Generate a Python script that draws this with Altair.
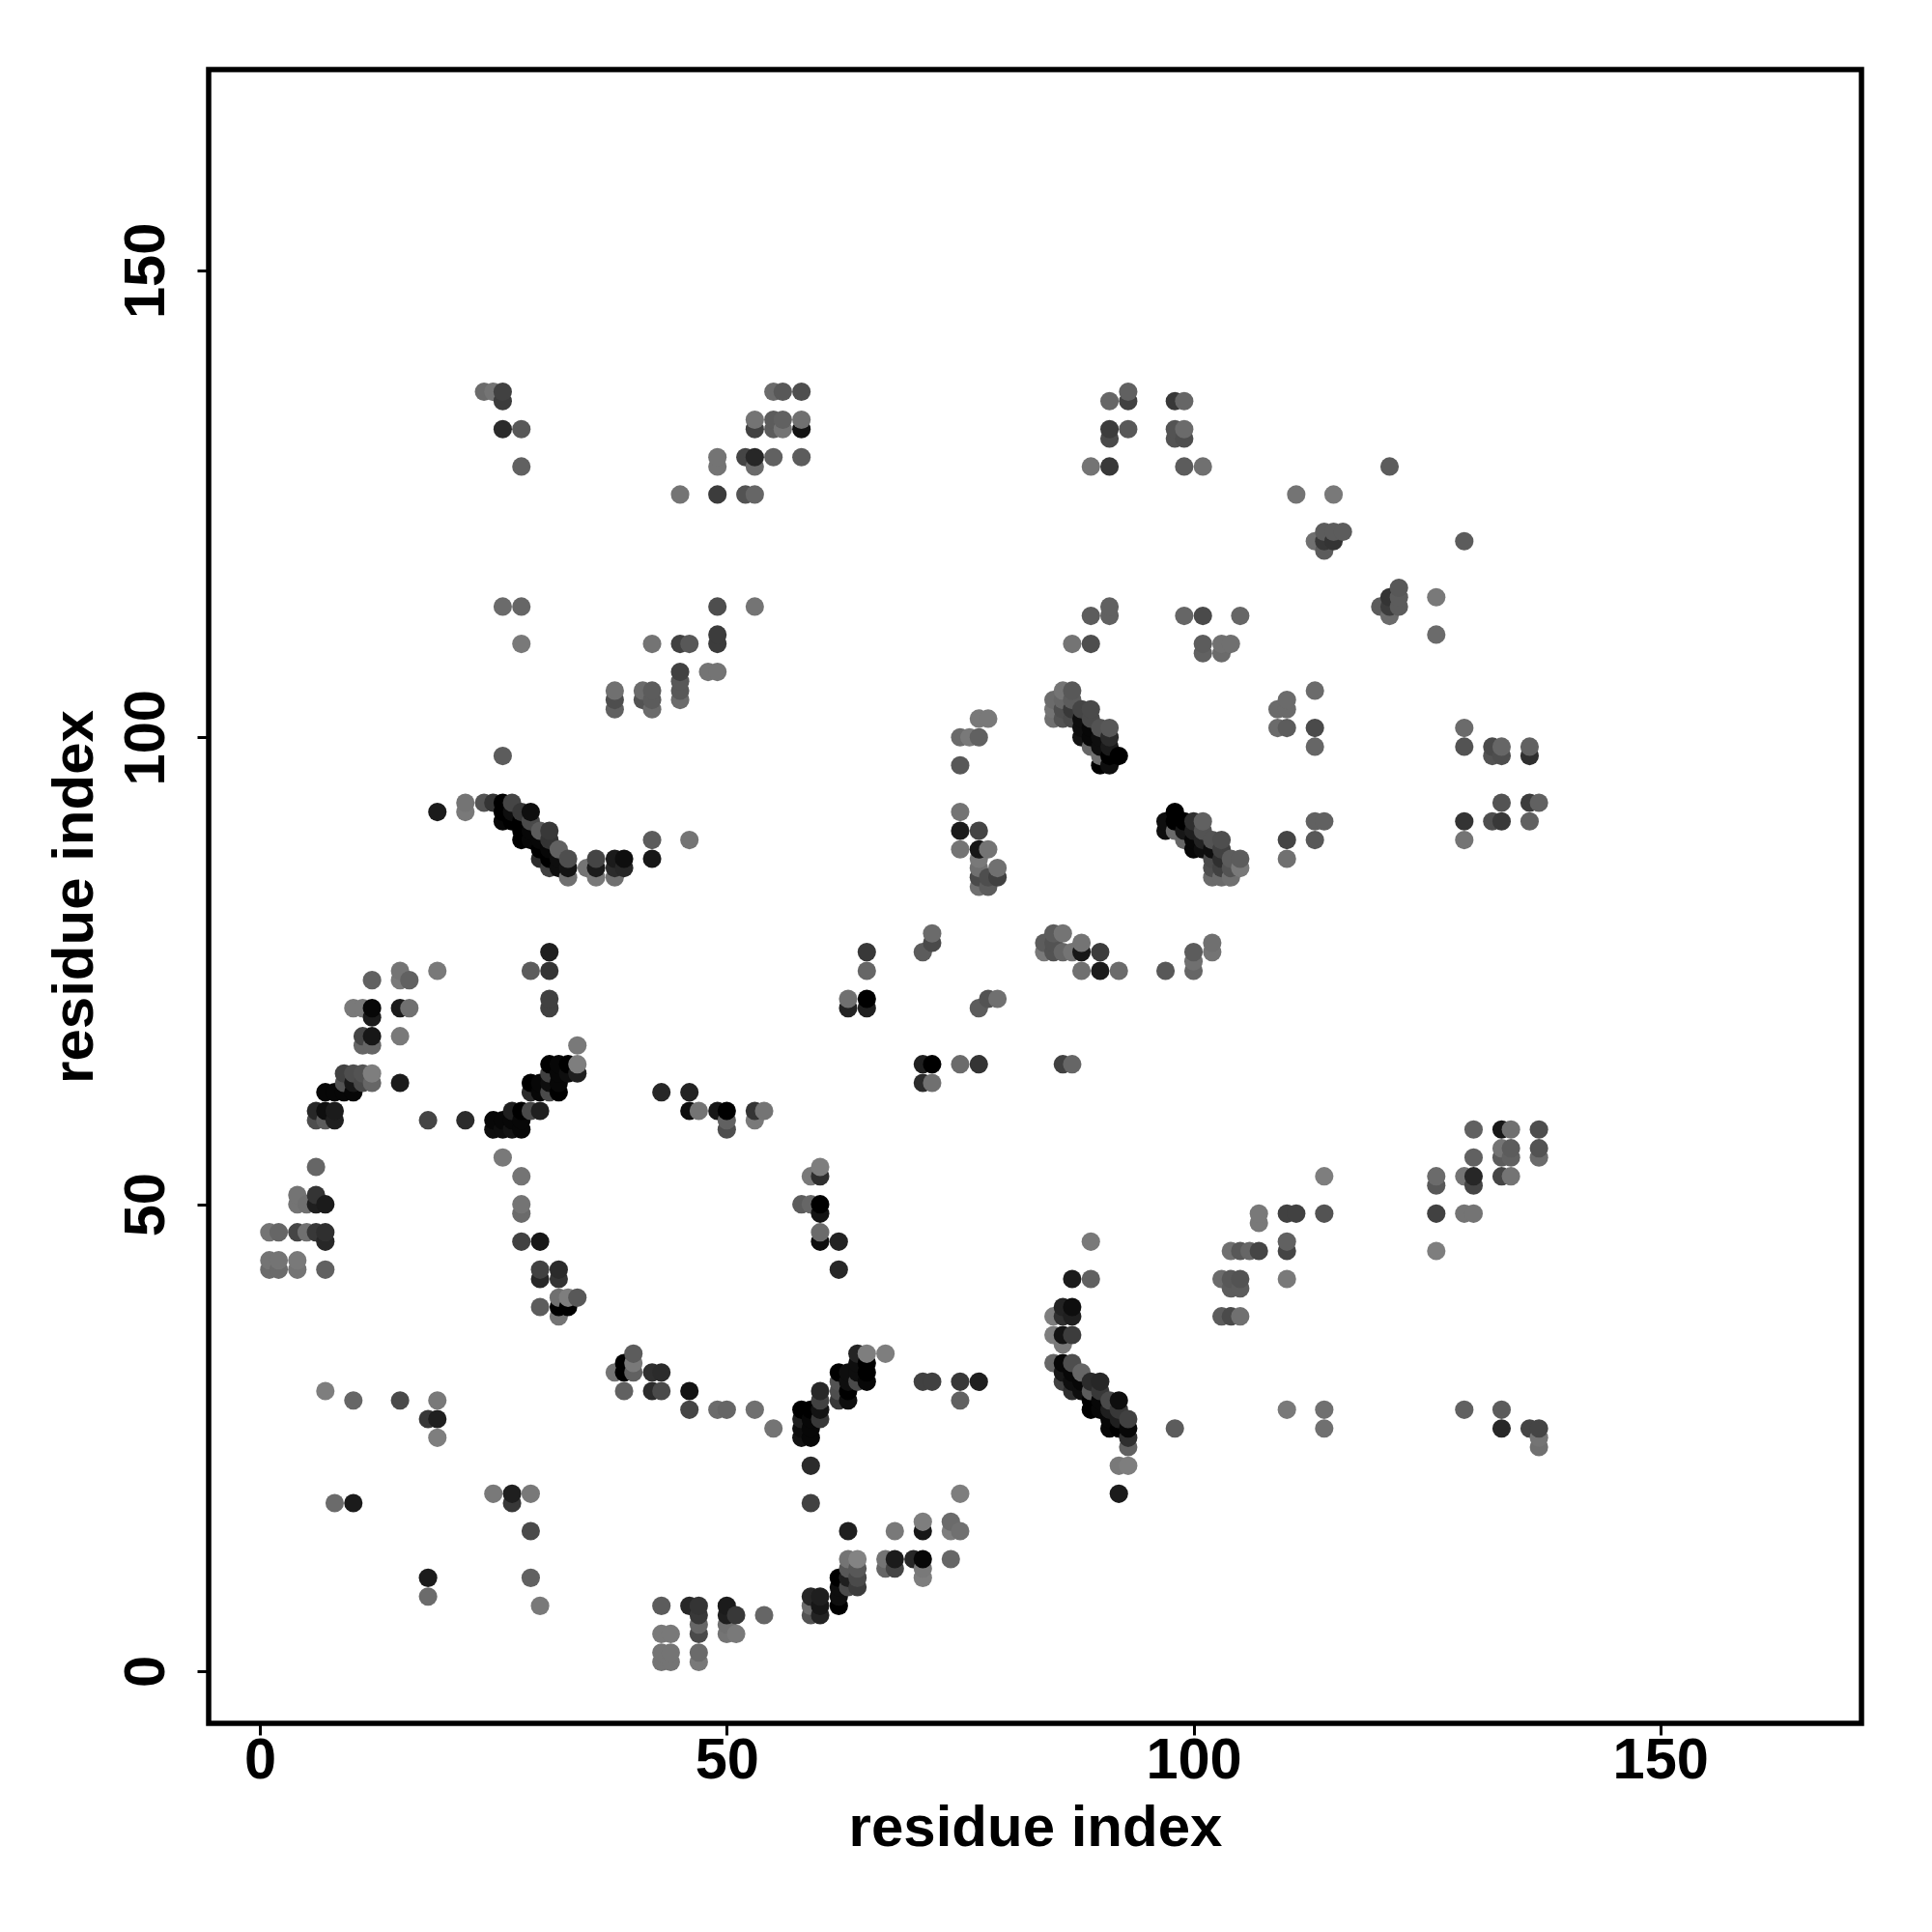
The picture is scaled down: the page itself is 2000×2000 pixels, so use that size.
import altair as alt
import pandas as pd

# Each list holds (residue i, residue j, grey level of the dot)
low_left = [
 (7,30,135),(10,29,110),(15,29,80),(19,29,130),(18,27,60),(19,27,30),(19,25,135),(8,18,115),(10,18,25),
 (25,19,130),(27,19,30),(27,18,60),(29,19,130),(29,15,80),(18,10,25),(18,8,115),(29,10,105),(30,7,130),
 (43,7,100),(46,7,40),(47,7,55),(47,6,60),(47,5,110),(47,4,80),(43,4,130),(44,4,130),(43,2,125),(44,2,125),
 (43,1,125),(44,1,125),(47,2,115),(47,1,130),(38,32,125),(39,33,0),(39,32,0),(40,34,100),(40,33,130),(40,32,105),
 (42,32,50),(43,32,45),(39,30,105),(42,30,45),(43,30,80),(46,30,15),(46,28,75),
]
low_mid = [
 (49,28,115),(50,28,110),(53,28,120),(55,26,125),(58,28,0),(58,27,30),(58,26,10),(58,25,15),(59,28,0),(59,27,5),
 (59,26,5),(59,25,5),(60,30,40),(60,29,70),(60,28,15),(60,27,60),(59,22,45),(59,18,70),
 (62,32,0),(62,31,90),(62,30,85),(62,29,60),(63,32,10),(63,31,10),(63,30,0),(63,29,10),(64,34,35),(64,33,10),
 (64,32,10),(64,31,80),(65,34,135),(65,33,0),(65,32,0),(65,31,5),(67,34,135),(71,31,70),(72,31,70),(75,31,60),
 (77,31,30),(75,29,105),(63,15,30),(68,15,130),(71,16,135),(71,15,20),(74,16,115),(74,15,135),(75,15,120),(75,19,135),
 (63,12,125),(64,12,140),(63,11,95),(64,11,95),(64,10,80),(64,9,65),(63,9,80),(63,10,30),(62,10,0),(62,9,10),(62,8,10),(62,7,0),
 (59,8,40),(60,8,30),(59,7,115),(60,7,20),(59,6,90),(60,6,35),(67,12,125),(68,12,25),(67,11,110),(68,11,75),
 (70,12,40),(71,12,5),(71,11,130),(71,10,135),(74,12,110),(50,7,25),(50,6,30),(51,6,60),(50,5,120),(50,4,125),(51,4,130),(54,6,110),
]
low_strand = [
 (85,38,135),(86,38,50),(87,38,30),(86,39,35),(87,39,10),(85,36,135),(86,36,15),(87,36,65),(86,35,130),
 (85,33,110),(86,33,5),(86,32,20),(86,31,70),(87,33,85),(87,32,5),(87,31,10),(87,30,50),(88,32,110),(88,31,5),(88,30,10),
 (89,31,45),(90,31,40),(89,30,100),(89,29,0),(89,28,0),(90,30,60),(90,29,5),(90,28,5),(91,29,80),(92,29,10),
 (91,28,30),(92,28,60),(91,27,5),(91,26,5),(92,27,30),(92,26,0),(93,27,70),(93,26,5),(93,25,50),(93,24,105),
 (92,22,130),(93,22,135),(92,19,25),(98,26,100),
]
low_right = [
 (110,28,130),(114,28,120),(114,26,120),(129,28,105),(133,28,100),(133,26,40),(136,26,75),(137,26,75),(137,25,125),(137,24,120),
 (130,58,105),(133,58,20),(134,58,120),(137,58,85),(133,56,125),(134,56,100),(133,55,100),(134,55,105),(137,56,90),(137,55,115),
 (130,55,105),(129,53,125),(130,53,40),(130,52,75),(133,53,75),(134,53,125),(126,53,115),(126,52,95),(126,49,70),(129,49,125),
 (130,49,125),(126,45,135),(114,53,135),(107,49,130),(107,48,130),(110,49,70),(111,49,70),(114,49,90),(110,46,105),(110,45,75),
 (104,45,120),(105,45,95),(106,45,110),(107,45,75),(110,42,130),(103,42,115),(104,42,95),(105,42,90),(104,41,100),(105,41,100),
 (103,38,100),(104,38,80),(105,38,120),
]
mid_left = [
 (31,77,30),(29,75,100),(31,75,55),(31,72,70),(31,71,70),(12,74,105),(15,75,125),(15,74,130),(16,74,105),(19,75,130),
 (10,71,130),(11,71,130),(12,71,5),(12,70,25),(15,71,25),(16,71,120),(11,68,75),(12,68,20),(11,67,110),(12,67,110),(15,68,130),
 (9,64,70),(10,64,85),(11,64,90),(12,64,135),(12,63,110),(11,63,80),(9,63,90),(10,63,20),(15,63,25),
 (7,62,5),(8,62,5),(9,62,5),(10,62,5),(6,60,40),(7,60,10),(8,60,25),(6,59,85),(7,59,100),(8,59,30),(18,59,75),(22,59,45),
 (43,62,40),(46,62,35),(46,60,10),(47,60,125),
 (25,59,5),(26,59,5),(27,59,5),(28,59,5),(25,58,10),(26,58,10),(27,58,15),(28,58,5),(27,60,30),(28,60,0),(29,60,80),(30,60,30),
 (29,62,45),(30,62,5),(31,62,80),(32,62,0),(29,63,0),(30,63,5),(31,63,10),(32,63,5),(34,64,30),(31,64,70),(32,64,5),(33,64,10),
 (31,65,0),(32,65,5),(33,65,0),(34,65,135),(34,67,130),
 (6,54,110),(4,51,125),(6,51,55),(4,50,125),(5,50,120),(6,50,30),(7,50,25),(1,47,125),(2,47,110),(4,47,75),(5,47,120),(6,47,60),
 (7,47,50),(7,46,40),(1,44,125),(2,44,125),(4,44,130),(1,43,115),(2,43,115),(4,43,125),(7,43,105),
 (26,55,130),(28,53,125),(28,50,125),(28,49,115),(28,46,70),(30,46,20),(30,43,70),(32,43,45),(30,42,40),(32,42,55),
 (32,40,120),(33,40,135),(34,40,95),(30,39,100),(32,39,0),(33,39,0),(32,38,125),
]
mid_mid = [
 (65,77,60),(65,75,110),(72,79,115),(72,78,80),(71,77,100),(63,72,120),(65,72,0),(63,71,35),(65,71,30),(78,72,90),(79,72,120),(77,71,100),
 (71,65,30),(72,65,0),(75,65,115),(77,65,55),(86,65,70),(87,65,110),(71,63,45),(72,63,120),
 (49,60,20),(50,60,0),(50,59,105),(50,58,85),(53,60,55),(54,60,125),(53,59,130),
 (59,53,130),(60,53,50),(60,54,135),(58,50,100),(59,50,110),(60,50,0),(60,49,15),(60,47,115),(60,46,10),(62,46,35),(62,43,40),
 (89,46,130),(87,42,25),(89,42,105),
 (84,78,100),(84,77,130),(85,79,100),(85,78,90),(85,77,90),(86,79,125),(86,77,110),(87,77,125),(88,78,125),(88,77,20),(90,77,65),
 (88,75,120),(90,75,25),(92,75,115),(97,75,95),(100,77,100),(100,76,120),(100,75,110),(102,78,120),(102,77,125),
]
upper_mid = [
 (75,97,95),(77,102,130),(78,102,130),(75,100,115),(76,100,130),(77,100,105),(75,92,125),(75,90,25),(77,90,75),(75,88,125),(77,88,20),(78,88,125),
 (77,87,130),(77,86,120),(77,85,80),(77,84,120),(78,85,85),(78,84,100),(79,86,120),(79,85,70),
 (85,104,115),(85,103,125),(85,102,120),(86,105,125),(86,104,110),(86,103,85),(86,102,90),(87,105,95),(87,104,100),(87,103,60),(87,102,80),
 (88,103,75),(89,103,80),(89,102,80),(88,102,10),(88,101,10),(88,100,15),(89,101,5),(89,100,5),(89,99,110),(90,101,90),(90,100,10),(90,99,10),
 (90,98,120),(90,97,0),(91,101,95),(91,100,45),(91,99,25),(91,98,0),(91,97,10),(92,98,0),
 (98,92,0),(97,91,10),(97,90,10),(98,91,0),(98,90,115),(99,91,0),(99,90,20),(99,89,110),(100,91,50),(101,91,105),(100,90,30),(100,89,5),(100,88,5),
 (101,90,90),(101,89,35),(101,88,10),(102,89,90),(103,89,85),(102,88,10),(103,88,70),(102,87,80),(102,86,85),(102,85,115),(103,87,50),(103,86,70),(103,85,115),
 (104,87,100),(104,86,90),(104,85,120),(105,87,100),(105,86,130),
]
upper_right = [
 (109,103,115),(110,104,115),(110,103,115),(109,101,115),(110,101,100),(110,89,75),(110,87,120),(113,105,115),(113,101,80),(113,99,110),(113,91,105),(114,91,105),(113,89,95),
 (129,101,115),(129,99,90),(132,99,80),(133,99,110),(132,98,90),(133,98,85),(136,99,105),(136,98,50),(133,93,90),(136,93,65),(137,93,105),(129,91,55),(132,91,85),(133,91,60),(136,91,105),(129,89,125),
]
top_right = [
 (93,137,105),(91,136,110),(93,136,70),(98,136,60),(99,136,110),(91,133,65),(91,132,80),(93,133,95),(98,133,90),(99,133,115),(98,132,90),(99,132,85),
 (89,129,125),(91,129,60),(99,129,100),(101,129,120),(111,126,125),(115,126,130),(121,129,100),(113,121,120),(114,122,100),(114,121,60),(114,120,100),(115,122,100),(115,121,55),(116,122,100),(129,121,100),
 (91,114,105),(89,113,100),(91,113,105),(99,113,110),(101,113,80),(105,113,110),(87,110,125),(89,110,85),(101,110,100),(103,110,120),(104,110,120),(101,109,105),(103,109,115),
 (120,114,100),(121,115,55),(121,114,65),(121,113,115),(122,116,95),(122,115,100),(122,114,100),(126,115,130),(126,111,115),
]
top_left = [
 (24,137,115),(25,137,125),(26,137,70),(26,136,65),(26,133,45),(28,133,95),(28,129,105),(55,137,115),(56,137,95),(58,137,85),
 (53,134,125),(53,133,70),(55,134,100),(55,133,100),(56,134,105),(56,133,125),(58,134,120),(58,133,15),(49,130,125),(49,129,125),(52,130,75),(53,130,40),(53,129,115),(55,130,105),(58,130,100),
 (45,126,125),(49,126,65),(52,126,90),(53,126,110),(26,114,115),(28,114,110),(49,114,85),(53,114,125),(28,110,130),(42,110,125),(45,110,70),(46,110,95),(49,111,65),(49,110,65),
 (45,107,70),(45,106,95),(45,105,95),(45,104,115),(48,107,125),(49,107,125),(38,105,120),(38,104,85),(38,103,105),(41,105,115),(41,104,90),(42,105,100),(42,104,100),(42,103,115),(26,98,100),
]
helix = [
 (19,92,25),(22,93,125),(22,92,130),(24,93,90),(25,93,55),(26,93,0),(27,93,75),(26,92,0),(26,91,5),(27,92,10),(27,91,0),(28,92,60),(29,92,10),(28,91,0),(28,90,0),(28,89,0),
 (29,91,80),(29,90,5),(29,89,5),(30,90,100),(31,90,60),(30,89,5),(31,89,55),(30,88,0),(30,87,45),(31,88,5),(31,87,0),(31,86,70),(32,88,105),(32,87,10),(32,86,10),(33,87,85),(33,86,15),(33,85,120),
 (35,86,125),(36,87,75),(36,86,25),(36,85,130),(38,87,25),(38,86,45),(38,85,120),(39,87,10),(39,86,40),(42,89,100),(42,87,20),(46,89,125),
]

tick_values = [0, 50, 100, 150]
axis_label = "residue index"

rows = low_left + low_mid + low_strand + low_right + mid_left + mid_mid + upper_mid + upper_right + top_right + top_left + helix
df = pd.DataFrame(rows, columns=["i", "j", "level"]).sort_values(["i", "j"], kind="stable").reset_index(drop=True)
df["draw"] = df.index

FONT = "Liberation Sans"

def axis(**kw):
    return alt.Axis(values=tick_values, grid=False, domain=False, ticks=True, tickSize=12, tickWidth=3, tickColor="black",
                    labelFont=FONT, labelFontSize=59.5, labelFontWeight="bold", labelColor="black",
                    titleFont=FONT, titleFontSize=60, titleFontWeight="bold", titleColor="black", **kw)

chart = (
    alt.Chart(df)
    .mark_circle(size=365, opacity=1)
    .encode(
        x=alt.X("i:Q", title=axis_label, scale=alt.Scale(domain=[-5.5, 171.55], nice=False, zero=False),
                axis=axis(labelPadding=-3, titlePadding=12, labelFlush=False)),
        y=alt.Y("j:Q", title=axis_label, scale=alt.Scale(domain=[-5.58, 171.5], nice=False, zero=False),
                axis=axis(labelAngle=270, labelAlign="center", labelBaseline="bottom", labelPadding=23, titlePadding=13)),
        color=alt.Color("level:Q", legend=None, scale=alt.Scale(domain=[0, 255], range=["#000000", "#ffffff"])),
        order=alt.Order("draw:Q"),
    )
    .properties(width=1711, height=1712, background="white",
                autosize=alt.AutoSizeParams(type="none"),
                padding={"left": 208, "top": 64, "right": 60, "bottom": 200})
    .configure_view(stroke="black", strokeWidth=5.5)
)
chart.save("out.html", embed_options={"renderer": "svg", "actions": False})
